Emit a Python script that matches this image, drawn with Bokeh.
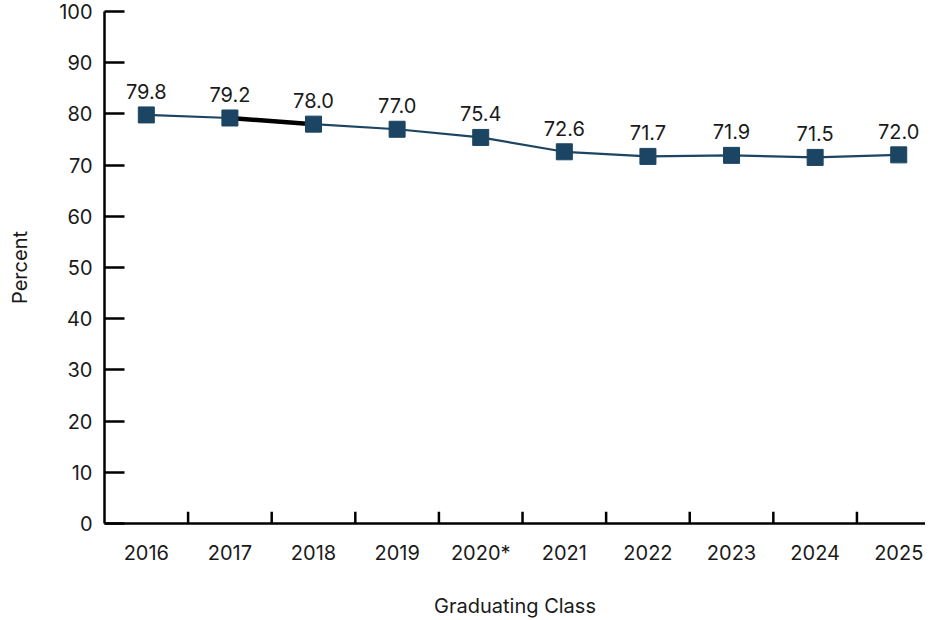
from bokeh.plotting import figure
from bokeh.models import ColumnDataSource, Range1d, FixedTicker, LinearAxis
from bokeh.embed import file_html
from bokeh.resources import INLINE
from bokeh.core.properties import value

years = ["2016", "2017", "2018", "2019", "2020*", "2021", "2022", "2023", "2024", "2025"]
percent = [79.8, 79.2, 78.0, 77.0, 75.4, 72.6, 71.7, 71.9, 71.5, 72.0]
y_ticks = [0, 10, 20, 30, 40, 50, 60, 70, 80, 90, 100]
highlight = [1, 2]  # segment 2017-2018 drawn in black
x_title = "Graduating Class"
y_title = "Percent"

FONT = "Inter"
NAVY = "#1b4562"
TXT = "#1a1a1a"
FS = "20px"

x = list(range(len(years)))
labels = ["%.1f" % v for v in percent]
src = ColumnDataSource(dict(x=x, y=percent, lab=labels))

p = figure(width=925, height=620, output_backend="svg", toolbar_location=None,
           x_range=Range1d(-0.5, 9.32), y_range=Range1d(0, 100),
           min_border_left=104, min_border_right=0, min_border_top=11, min_border_bottom=97,
           x_axis_type=None, y_axis_type=None)
p.grid.visible = False
p.outline_line_color = None
p.background_fill_color = "white"
p.border_fill_color = "white"

# y axis
ya = LinearAxis(ticker=FixedTicker(ticks=y_ticks))
ya.axis_label = y_title
ya.axis_line_width = 2.5
ya.axis_line_color = "black"
ya.major_tick_line_width = 2.5
ya.major_tick_line_color = "black"
ya.major_tick_in = 20
ya.major_tick_out = 0
ya.minor_tick_line_color = None
ya.major_label_standoff = 12
ya.major_label_text_font = FONT
ya.major_label_text_font_size = FS
ya.major_label_text_color = TXT
ya.axis_label_text_font = FONT
ya.axis_label_text_font_size = FS
ya.axis_label_text_font_style = "normal"
ya.axis_label_text_color = TXT
ya.axis_label_standoff = 24
p.add_layout(ya, "left")

# x axis (labels at category centres)
xa = LinearAxis(ticker=FixedTicker(ticks=x))
xa.major_label_overrides = {i: y for i, y in enumerate(years)}
xa.axis_label = x_title
xa.axis_line_width = 2.5
xa.axis_line_color = "black"
xa.major_tick_line_color = None
xa.minor_tick_line_color = None
xa.major_label_standoff = 11
xa.major_label_text_font = FONT
xa.major_label_text_font_size = FS
xa.major_label_text_color = TXT
xa.axis_label_text_font = FONT
xa.axis_label_text_font_size = FS
xa.axis_label_text_font_style = "normal"
xa.axis_label_text_color = TXT
xa.axis_label_standoff = 26
p.add_layout(xa, "below")

# boundary ticks between categories (pointing up)
bx = [i + 0.5 for i in range(len(years) - 1)]
p.segment(x0=bx, y0=[0] * len(bx), x1=bx, y1=[2.3] * len(bx), line_color="black", line_width=2.5)

# main line
p.line("x", "y", source=src, line_color=NAVY, line_width=2.2)
# highlighted segment
p.line([x[i] for i in highlight], [percent[i] for i in highlight], line_color="black", line_width=4.5)
# markers
p.scatter("x", "y", source=src, marker="square", size=16, fill_color=NAVY, line_color=NAVY)
# data labels
p.text("x", "y", text="lab", source=src, text_align="center", text_baseline="bottom",
       y_offset=-16, text_font=value(FONT), text_font_size=FS, text_color=TXT)

open("out.html", "w").write(file_html(p, INLINE))
